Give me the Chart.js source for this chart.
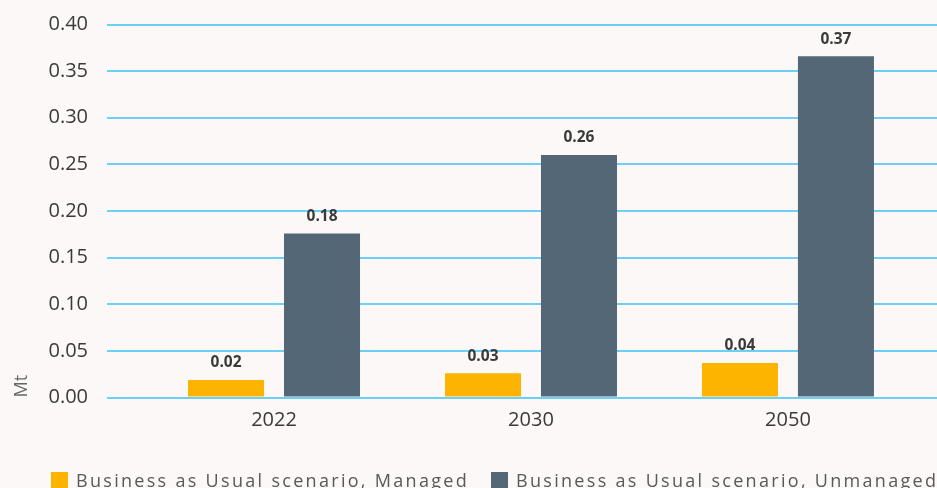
<!DOCTYPE html>
<html>
<head>
<meta charset="utf-8">
<script src="https://cdn.jsdelivr.net/npm/chart.js@4.4.1/dist/chart.umd.min.js"></script>
<style>
  html, body { margin: 0; padding: 0; background: #fbf8f7; }
  #wrap { position: relative; width: 937px; height: 488px; overflow: hidden; background: #fbf8f7; }
  #c { position: absolute; left: 0; top: 0; }
  #legend { position: absolute; left: 51px; top: 468px; white-space: nowrap;
    font-family: "Open Sans", sans-serif; font-size: 18px; letter-spacing: 2.3px; color: #595959; }
  .item { display: inline-flex; align-items: center; margin-right: 22px; }
  .box { display: inline-block; width: 17px; height: 17px; margin-right: 8px; }
</style>
</head>
<body>
<div id="wrap">
  <canvas id="c" width="937" height="488"></canvas>
  <div id="legend"></div>
</div>
<script>
const years = ['2022', '2030', '2050'];
const seriesNames = ['Business as Usual scenario, Managed', 'Business as Usual scenario, Unmanaged'];
const managed = [0.0188, 0.026, 0.037];
const unmanaged = [0.176, 0.26, 0.366];
const yTicks = [0, 0.05, 0.10, 0.15, 0.20, 0.25, 0.30, 0.35, 0.40];
const colors = ['#fcb400', '#546777'];

const valueLabels = {
  id: 'valueLabels',
  afterDatasetsDraw(chart) {
    const ctx = chart.ctx;
    ctx.save();
    ctx.font = 'bold 15.5px "Open Sans", sans-serif';
    ctx.fillStyle = '#3a3a3a';
    ctx.textAlign = 'center';
    ctx.textBaseline = 'middle';
    chart.data.datasets.forEach((ds, di) => {
      chart.getDatasetMeta(di).data.forEach((el, i) => {
        ctx.fillText(ds.data[i].y.toFixed(2), el.x, el.y - 17);
      });
    });
    ctx.restore();
  }
};

const chart = new Chart(document.getElementById('c'), {
  type: 'bar',
  data: {
    datasets: [
      { label: seriesNames[0], data: managed.map((v, i) => ({ x: i, y: v })), backgroundColor: colors[0] },
      { label: seriesNames[1], data: unmanaged.map((v, i) => ({ x: i, y: v })), backgroundColor: colors[1] }
    ]
  },
  options: {
    responsive: false,
    animation: false,
    datasets: { bar: { categoryPercentage: 0.747, barPercentage: 0.792 } },
    layout: { padding: { top: 0, right: 0, bottom: 0, left: 0 } },
    plugins: { legend: { display: false }, tooltip: { enabled: false } },
    scales: {
      x: {
        type: 'linear',
        offset: false,
        min: -0.65,
        max: 2.58,
        grid: { display: false, offset: false },
        border: { display: false },
        afterBuildTicks: (scale) => { scale.ticks = years.map((_, i) => ({ value: i })); },
        afterFit: (scale) => { scale.height = 90.5; },
        ticks: {
          autoSkip: false,
          maxRotation: 0,
          padding: 3,
          color: '#3a3a3a',
          font: { family: '"Open Sans", sans-serif', size: 20 },
          callback: (v) => years[v]
        }
      },
      y: {
        min: 0,
        max: 0.4,
        afterBuildTicks: (scale) => { scale.ticks = yTicks.map(v => ({ value: v })); },
        afterFit: (scale) => { scale.width = 107; },
        grid: { color: '#6ccff5', lineWidth: 2, drawTicks: false },
        border: { display: false },
        ticks: {
          padding: 19,
          color: '#3a3a3a',
          font: { family: '"Open Sans", sans-serif', size: 20, lineHeight: 0.55 },
          callback: (v) => v.toFixed(2)
        },
        title: {
          display: true,
          text: 'Mt',
          align: 'start',
          color: '#666666',
          padding: { top: 11, bottom: 0 },
          font: { family: '"Open Sans", sans-serif', size: 18 }
        }
      }
    }
  },
  plugins: [valueLabels]
});

const legend = document.getElementById('legend');
chart.data.datasets.forEach((ds) => {
  const item = document.createElement('span');
  item.className = 'item';
  const box = document.createElement('span');
  box.className = 'box';
  box.style.background = ds.backgroundColor;
  const txt = document.createElement('span');
  txt.textContent = ds.label;
  item.appendChild(box);
  item.appendChild(txt);
  legend.appendChild(item);
});
</script>
</body>
</html>
